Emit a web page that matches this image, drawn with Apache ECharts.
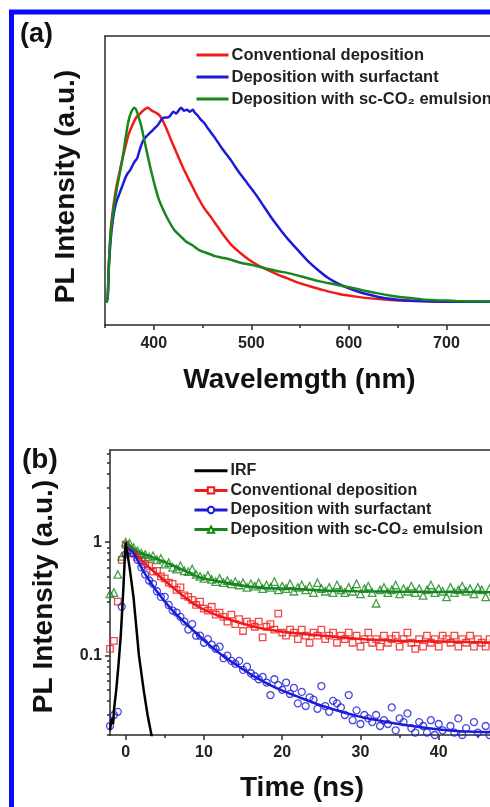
<!DOCTYPE html>
<html>
<head>
<meta charset="utf-8">
<script src="https://cdn.jsdelivr.net/npm/echarts@6/dist/echarts.min.js"></script>
<style>
  html, body { margin: 0; padding: 0; background: #fff; }
  #chart { width: 490px; height: 807px; }
</style>
</head>
<body>
<div id="chart"></div>
<script>
// (a) PL spectra, [wavelength nm, normalized intensity]
const convPL = [[350,0],[352,0],[353,0.05],[354,0.2],[356,0.38],[358,0.47],[360,0.54],[362,0.6],[365,0.67],[368,0.74],[371,0.8],[374,0.86],[378,0.91],[382,0.95],[386,0.97],[390,0.99],[394,1.0],[398,0.985],[402,0.975],[406,0.96],[410,0.925],[414,0.88],[418,0.83],[424,0.76],[431,0.68],[438,0.61],[445,0.54],[452,0.48],[458,0.44],[465,0.39],[472,0.34],[480,0.29],[489,0.25],[498,0.215],[506,0.19],[516,0.165],[527,0.14],[537,0.12],[547,0.1],[560,0.08],[574,0.06],[590,0.04],[609,0.025],[625,0.016],[643,0.009],[660,0.005],[680,0.002],[700,0.001],[740,0],[800,0]]
const surfPL = [[350,0],[352,0],[353,0.04],[354,0.18],[356,0.33],[358,0.42],[360,0.48],[362,0.52],[365,0.56],[368,0.6],[371,0.64],[373,0.66],[376,0.68],[378,0.7],[380,0.72],[383,0.74],[386,0.79],[389,0.83],[392,0.85],[396,0.87],[400,0.89],[404,0.91],[408,0.94],[411,0.95],[414,0.95],[417,0.96],[420,0.98],[423,0.97],[426,0.99],[428,1.0],[431,0.985],[434,0.99],[437,0.98],[440,0.99],[442,0.975],[445,0.96],[448,0.94],[452,0.92],[456,0.89],[462,0.85],[470,0.79],[479,0.73],[487,0.67],[496,0.61],[505,0.55],[513,0.49],[521,0.43],[530,0.37],[538,0.32],[547,0.27],[557,0.215],[568,0.165],[578,0.125],[588,0.096],[598,0.073],[609,0.053],[622,0.035],[636,0.019],[650,0.01],[664,0.005],[680,0.002],[700,0],[800,0]]
const scco2PL = [[350,0],[352,0],[353,0.05],[354,0.2],[356,0.36],[358,0.45],[360,0.52],[362,0.58],[365,0.66],[368,0.74],[371,0.84],[374,0.93],[377,0.98],[380,1.0],[382,0.99],[384,0.96],[387,0.91],[390,0.84],[393,0.77],[397,0.68],[401,0.6],[405,0.53],[410,0.47],[415,0.42],[421,0.37],[427,0.34],[433,0.31],[440,0.29],[447,0.265],[455,0.25],[463,0.235],[472,0.225],[480,0.215],[490,0.2],[500,0.19],[512,0.175],[525,0.16],[540,0.145],[555,0.125],[570,0.105],[585,0.09],[600,0.075],[615,0.058],[630,0.043],[645,0.03],[660,0.02],[675,0.012],[690,0.008],[710,0.004],[730,0.002],[760,0.001],[800,0]]

// (b) decay, measured points (ns)
const decayTime = [-2,-1.5,-1,-0.5,0,0.5,1,1.5,2,2.5,
  3,3.5,4,4.5,5,5.5,6,6.5,7,7.5,
  8,8.5,9,9.5,10,10.5,11,11.5,12,12.5,
  13,13.5,14,14.5,15,15.5,16,16.5,17,17.5,
  18,18.5,19,19.5,20,20.5,21,21.5,22,22.5,
  23,23.5,24,24.5,25,25.5,26,26.5,27,27.5,
  28,28.5,29,29.5,30,30.5,31,31.5,32,32.5,
  33,33.5,34,34.5,35,35.5,36,36.5,37,37.5,
  38,38.5,39,39.5,40,40.5,41,41.5,42,42.5,
  43,43.5,44,44.5,45,45.5,46,46.5,47,47.5,
  48]
const convDecay = [0.115,0.135,0.30,0.70,0.95,0.80,0.80,0.74,0.70,0.64,
  0.62,0.55,0.56,0.50,0.48,0.44,0.43,0.38,0.40,0.34,
  0.33,0.31,0.28,0.30,0.26,0.25,0.27,0.23,0.24,0.22,
  0.20,0.23,0.19,0.21,0.165,0.20,0.19,0.18,0.20,0.145,
  0.18,0.19,0.17,0.235,0.16,0.15,0.17,0.16,0.14,0.17,
  0.15,0.13,0.16,0.15,0.17,0.14,0.15,0.16,0.13,0.15,
  0.14,0.16,0.13,0.15,0.12,0.14,0.16,0.13,0.14,0.12,
  0.15,0.13,0.14,0.15,0.12,0.14,0.16,0.13,0.115,0.14,
  0.12,0.15,0.13,0.14,0.12,0.15,0.14,0.13,0.15,0.12,
  0.14,0.13,0.15,0.12,0.14,0.13,0.12,0.14,0.13,0.14,
  0.13]
const surfDecay = [0.024,0.03,0.032,0.27,0.78,0.85,0.80,0.70,0.60,0.52,
  0.46,0.43,0.37,0.33,0.33,0.28,0.25,0.24,0.22,0.20,
  0.17,0.19,0.15,0.15,0.13,0.14,0.125,0.115,0.12,0.095,
  0.10,0.09,0.085,0.09,0.075,0.08,0.07,0.066,0.062,0.065,
  0.058,0.045,0.062,0.055,0.05,0.058,0.046,0.052,0.038,0.048,
  0.036,0.043,0.041,0.034,0.054,0.036,0.032,0.04,0.038,0.035,
  0.03,0.045,0.027,0.033,0.025,0.03,0.028,0.026,0.03,0.024,
  0.027,0.025,0.035,0.022,0.028,0.026,0.031,0.023,0.021,0.026,
  0.024,0.021,0.027,0.02,0.025,0.022,0.019,0.024,0.021,0.028,
  0.02,0.023,0.019,0.026,0.021,0.018,0.024,0.02,0.022,0.019,
  0.021]
const scco2Decay = [0.35,0.36,0.52,0.75,1.0,0.98,0.90,0.84,0.80,0.78,
  0.74,0.76,0.70,0.72,0.64,0.66,0.60,0.58,0.62,0.56,
  0.55,0.58,0.52,0.50,0.48,0.51,0.47,0.45,0.48,0.44,
  0.46,0.43,0.45,0.42,0.44,0.40,0.43,0.41,0.44,0.39,
  0.42,0.40,0.45,0.38,0.41,0.39,0.43,0.37,0.40,0.42,
  0.38,0.41,0.36,0.44,0.39,0.37,0.40,0.36,0.42,0.38,
  0.36,0.40,0.37,0.43,0.35,0.39,0.41,0.36,0.29,0.38,
  0.40,0.36,0.38,0.42,0.35,0.39,0.37,0.41,0.36,0.39,
  0.34,0.38,0.42,0.36,0.39,0.37,0.33,0.40,0.36,0.38,
  0.41,0.37,0.39,0.35,0.40,0.38,0.33,0.39,0.37,0.36,
  0.38]
// fitted curves and IRF, [time ns, intensity]
const convFit = [[0.3,0.9],[0.94,0.85],[2,0.7],[3.9,0.53],[6.5,0.376],[9,0.277],[12.4,0.218],[16.7,0.178],[20.9,0.16],[25.2,0.15],[29.5,0.141],[33.7,0.136],[38,0.134],[46.5,0.131],[50,0.13]]
const surfFit = [[0.3,0.88],[0.94,0.82],[2.2,0.565],[3.9,0.376],[6,0.25],[8.2,0.178],[10.3,0.131],[12.4,0.1],[14.6,0.079],[16.7,0.064],[19.2,0.052],[21.8,0.044],[25.2,0.036],[29.5,0.0295],[33.7,0.0258],[38,0.0233],[42.2,0.0217],[46.5,0.0212],[50,0.021]]
const scco2Fit = [[0.3,0.98],[0.94,0.88],[2,0.8],[3.9,0.717],[6.5,0.605],[9.45,0.49],[12.4,0.446],[16.7,0.4],[20.9,0.389],[25.2,0.376],[29.5,0.37],[35,0.366],[40,0.365],[46.5,0.363],[50,0.363]]
const irf = [[-2,0.022],[-1.8,0.028],[-1.6,0.025],[-1.5,0.033],[-1.2,0.05],[-0.9,0.085],[-0.6,0.16],[-0.3,0.38],[-0.1,0.75],[0,1.0],[0.5,0.6],[1,0.33],[1.7,0.1],[2.3,0.05],[2.8,0.03],[3.3,0.02],[3.6,0.016]]

// ticks
const waveTicks = [400, 500, 600, 700, 800]
const waveMinor = [350, 450, 550, 650, 750]
const timeTicks = [0, 10, 20, 30, 40, 50]
const timeMinor = [5, 15, 25, 35, 45]
const logTicks = [0.1, 1]
const logMinor = [0.02,0.03,0.04,0.05,0.06,0.07,0.08,0.09,0.2,0.3,0.4,0.5,0.6,0.7,0.8,0.9,2,3,4,5,6]

const names = ['Conventional deposition', 'Deposition with surfactant', 'Deposition with sc-CO₂ emulsion']
const colors = ['#f01a1a', '#1c1cd8', '#17861c']
const font = 'Liberation Sans'
const axisColor = '#2a2a2a'

const zip = (xs, ys) => xs.map((x, i) => [x, ys[i]])

const myChart = echarts.init(document.getElementById('chart'), null, { renderer: 'canvas' })

const bigName = { fontSize: 28, fontWeight: 'bold', color: '#111', fontFamily: font }
const tickLabel = { fontSize: 16, fontWeight: 'bold', color: '#222', fontFamily: font }
const lineAxis = { show: true, onZero: false, lineStyle: { color: axisColor, width: 1.5 } }
const noLine = { show: false, onZero: false }
const tickStyle = { color: axisColor, width: 1.5 }

const option = {
  animation: false,
  backgroundColor: '#fff',
  graphic: [
    { type: 'rect', shape: { x: 11.5, y: 12, width: 600, height: 900 }, style: { fill: 'none', stroke: '#0a0aff', lineWidth: 5 }, z: 100 },
    { type: 'text', left: 20, top: 21, style: { text: '(a)', font: 'bold 27px "Liberation Sans"', fill: '#111' } },
    { type: 'text', left: 22, top: 446, style: { text: '(b)', font: 'bold 28px "Liberation Sans"', fill: '#111' } }
  ],
  legend: [
    {
      orient: 'vertical',
      left: 190,
      top: 39,
      itemWidth: 32,
      itemHeight: 14,
      itemGap: 0,
      itemStyle: { opacity: 0 },
      lineStyle: { width: 3 },
      data: names,
      textStyle: { fontSize: 16.5, lineHeight: 22, fontWeight: 'bold', color: '#222', fontFamily: font, padding: [0, 0, 0, -2] }
    },
    {
      orient: 'vertical',
      left: 188,
      top: 456,
      itemWidth: 33,
      itemHeight: 8,
      itemGap: 0,
      lineStyle: { width: 3 },
      data: [{ name: 'b:IRF', itemStyle: { opacity: 0 } }, 'b:' + names[0], 'b:' + names[1], 'b:' + names[2]],
      formatter: name => name.slice(2),
      textStyle: { fontSize: 16, lineHeight: 19.6, fontWeight: 'bold', color: '#222', fontFamily: font, padding: [0, 0, 0, -2] }
    }
  ],
  grid: [
    { left: 105, right: -54, top: 36, height: 289, outerBoundsMode: 'none', containLabel: false },
    { left: 110, right: -27, top: 450, height: 285, outerBoundsMode: 'none', containLabel: false }
  ],
  xAxis: [
    {
      gridIndex: 0, type: 'value', min: 350, max: 800, position: 'bottom',
      name: 'Wavelemgth (nm)', nameLocation: 'middle', nameGap: 41,
      nameTextStyle: Object.assign({ padding: [0, 50, 0, 0] }, bigName),
      axisLine: lineAxis,
      axisTick: { show: true, length: 5, customValues: waveTicks, lineStyle: tickStyle },
      axisLabel: Object.assign({ margin: 11, customValues: waveTicks }, tickLabel),
      splitLine: { show: false }
    },
    {
      gridIndex: 0, type: 'value', min: 350, max: 800, position: 'bottom',
      axisLine: noLine,
      axisTick: { show: true, length: 3, customValues: waveMinor, lineStyle: tickStyle },
      axisLabel: { show: false },
      splitLine: { show: false }
    },
    {
      gridIndex: 0, type: 'value', min: 350, max: 800, position: 'top',
      axisLine: lineAxis, axisTick: { show: false }, axisLabel: { show: false }, splitLine: { show: false }
    },
    {
      gridIndex: 1, type: 'value', min: -2, max: 50, position: 'bottom',
      name: 'Time (ns)', nameLocation: 'middle', nameGap: 39,
      nameTextStyle: Object.assign({ padding: [0, 23, 0, 0] }, bigName),
      axisLine: lineAxis,
      axisTick: { show: true, length: 5, customValues: timeTicks, lineStyle: tickStyle },
      axisLabel: Object.assign({ margin: 10, customValues: timeTicks }, tickLabel),
      splitLine: { show: false }
    },
    {
      gridIndex: 1, type: 'value', min: -2, max: 50, position: 'bottom',
      axisLine: noLine,
      axisTick: { show: true, length: 3, customValues: timeMinor, lineStyle: tickStyle },
      axisLabel: { show: false },
      splitLine: { show: false }
    },
    {
      gridIndex: 1, type: 'value', min: -2, max: 50, position: 'top',
      axisLine: lineAxis, axisTick: { show: false }, axisLabel: { show: false }, splitLine: { show: false }
    }
  ],
  yAxis: [
    {
      gridIndex: 0, type: 'value', min: -0.12, max: 1.37, position: 'left',
      name: 'PL Intensity (a.u.)', nameLocation: 'middle', nameGap: 25, nameRotate: 90,
      nameTextStyle: Object.assign({ padding: [0, 12, 0, 0] }, bigName),
      axisLine: lineAxis, axisTick: { show: false }, axisLabel: { show: false }, splitLine: { show: false }
    },
    {
      gridIndex: 1, type: 'log', logBase: 10, min: 0.02, max: 6.5, position: 'left',
      name: 'PL Intensity (a.u.)', nameLocation: 'middle', nameGap: 52, nameRotate: 90,
      nameTextStyle: Object.assign({ padding: [0, 8, 0, 0] }, bigName),
      axisLine: lineAxis,
      axisTick: { show: true, length: 5, customValues: logTicks, lineStyle: tickStyle },
      axisLabel: Object.assign({ margin: 8, customValues: logTicks, formatter: v => String(v) }, tickLabel),
      splitLine: { show: false }
    },
    {
      gridIndex: 1, type: 'log', logBase: 10, min: 0.02, max: 6.5, position: 'left',
      axisLine: noLine,
      axisTick: { show: true, length: 3, customValues: logMinor, lineStyle: tickStyle },
      axisLabel: { show: false },
      splitLine: { show: false }
    }
  ],
  series: [
    // (a)
    { name: names[0], type: 'line', xAxisIndex: 0, yAxisIndex: 0, data: convPL, symbol: 'none', smooth: 0.2, lineStyle: { width: 2.5, color: colors[0] }, itemStyle: { color: colors[0] } },
    { name: names[1], type: 'line', xAxisIndex: 0, yAxisIndex: 0, data: surfPL, symbol: 'none', smooth: 0.2, lineStyle: { width: 2.5, color: colors[1] }, itemStyle: { color: colors[1] } },
    { name: names[2], type: 'line', xAxisIndex: 0, yAxisIndex: 0, data: scco2PL, symbol: 'none', smooth: 0.2, lineStyle: { width: 2.5, color: colors[2] }, itemStyle: { color: colors[2] } },
    // (b) lines first so the legend takes their icons
    { name: 'b:IRF', type: 'line', xAxisIndex: 3, yAxisIndex: 1, data: irf, symbol: 'none', z: 4, lineStyle: { width: 2.5, color: '#000' }, itemStyle: { color: '#000' } },
    { name: 'b:' + names[0], type: 'line', xAxisIndex: 3, yAxisIndex: 1, data: convFit, symbol: 'emptyRect', symbolSize: 7, showSymbol: false, smooth: 0.3, z: 3, lineStyle: { width: 2.5, color: colors[0] }, itemStyle: { color: colors[0] } },
    { name: 'b:' + names[1], type: 'line', xAxisIndex: 3, yAxisIndex: 1, data: surfFit, symbol: 'emptyCircle', symbolSize: 7, showSymbol: false, smooth: 0.3, z: 3, lineStyle: { width: 2.5, color: colors[1] }, itemStyle: { color: colors[1] } },
    { name: 'b:' + names[2], type: 'line', xAxisIndex: 3, yAxisIndex: 1, data: scco2Fit, symbol: 'emptyTriangle', symbolSize: 7, showSymbol: false, smooth: 0.3, z: 3, lineStyle: { width: 2.5, color: colors[2] }, itemStyle: { color: colors[2] } },
    { name: 'b:' + names[0], type: 'scatter', xAxisIndex: 3, yAxisIndex: 1, data: zip(decayTime, convDecay), symbol: 'rect', symbolSize: 6.5, z: 2, itemStyle: { color: 'transparent', borderColor: colors[0], borderWidth: 1.3 } },
    { name: 'b:' + names[1], type: 'scatter', xAxisIndex: 3, yAxisIndex: 1, data: zip(decayTime, surfDecay), symbol: 'circle', symbolSize: 7, z: 2, itemStyle: { color: 'transparent', borderColor: colors[1], borderWidth: 1.3 } },
    { name: 'b:' + names[2], type: 'scatter', xAxisIndex: 3, yAxisIndex: 1, data: zip(decayTime, scco2Decay), symbol: 'triangle', symbolSize: 7.5, z: 2, itemStyle: { color: 'transparent', borderColor: colors[2], borderWidth: 1.3 } }
  ]
}
myChart.setOption(option)
</script>
</body>
</html>
